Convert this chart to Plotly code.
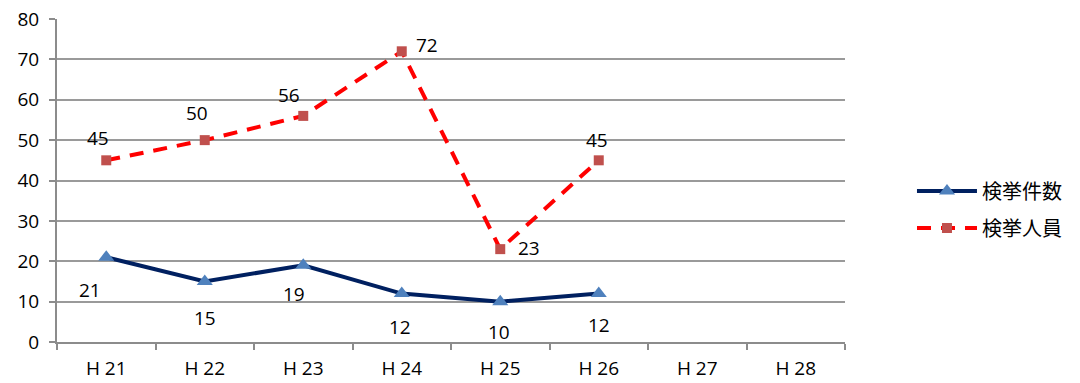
import plotly.graph_objects as go

years = ["H 21", "H 22", "H 23", "H 24", "H 25", "H 26", "H 27", "H 28"]
cases = [21, 15, 19, 12, 10, 12, None, None]
people = [45, 50, 56, 72, 23, 45, None, None]

# label offsets (px) relative to each point
cases_shift = [(-16, -33), (0, -37), (-9, -29), (-2, -33), (-1, -30), (0, -31)]
people_shift = [(-8, 22), (-8, 27), (-14, 21), (25, 6), (29, 1), (-2, 20)]

fnt = "Open Sans, Noto Sans CJK JP, sans-serif"

fig = go.Figure()

fig.add_trace(go.Scatter(
    x=years, y=cases, name="検挙件数", legendgroup="a",
    mode="lines+markers",
    line=dict(color="#002060", width=4),
    marker=dict(symbol="triangle-up", size=14, color="#4F81BD"),
))

fig.add_trace(go.Scatter(
    x=years, y=people, name="検挙人員", legendgroup="b",
    mode="lines+markers",
    line=dict(color="#FF0000", width=4, dash="14px,10px"),
    marker=dict(symbol="square", size=10, color="#C0504D"),
))

for vals, shifts in ((cases, cases_shift), (people, people_shift)):
    for x, v, (dx, dy) in zip(years, vals, shifts):
        if v is None:
            continue
        fig.add_annotation(x=x, y=v, text=str(v), showarrow=False,
                           xshift=dx, yshift=dy, font=dict(size=19, color="#000000"))

fig.update_layout(
    width=1080, height=383,
    margin=dict(l=57, r=235, t=19, b=41),
    paper_bgcolor="white", plot_bgcolor="white",
    font=dict(family=fnt, size=19, color="#000000"),
    legend=dict(x=1.085, y=0.41, yanchor="middle", xanchor="left",
                font=dict(size=20), tracegroupgap=8, itemwidth=60),
    showlegend=True,
)
fig.update_xaxes(
    type="category", categoryorder="array", categoryarray=years,
    range=[-0.5, 7.5], showgrid=False, automargin=False,
    showline=True, linecolor="#8C8C8C", linewidth=2,
    ticks="outside", tickson="boundaries", ticklen=6, tickcolor="#8C8C8C", tickwidth=2,
    tickfont=dict(size=19), ticklabelstandoff=8,
)
fig.update_yaxes(
    range=[0, 80], dtick=10, automargin=False,
    showgrid=True, gridcolor="#9A9A9A", gridwidth=1.5,
    showline=True, linecolor="#8C8C8C", linewidth=2,
    ticks="outside", ticklen=6, tickcolor="#8C8C8C", tickwidth=2,
    tickfont=dict(size=19), zeroline=False, ticklabelstandoff=6,
)

fig.write_html("out.html", config={"displayModeBar": False},
               post_script="document.body.style.margin='0';")
